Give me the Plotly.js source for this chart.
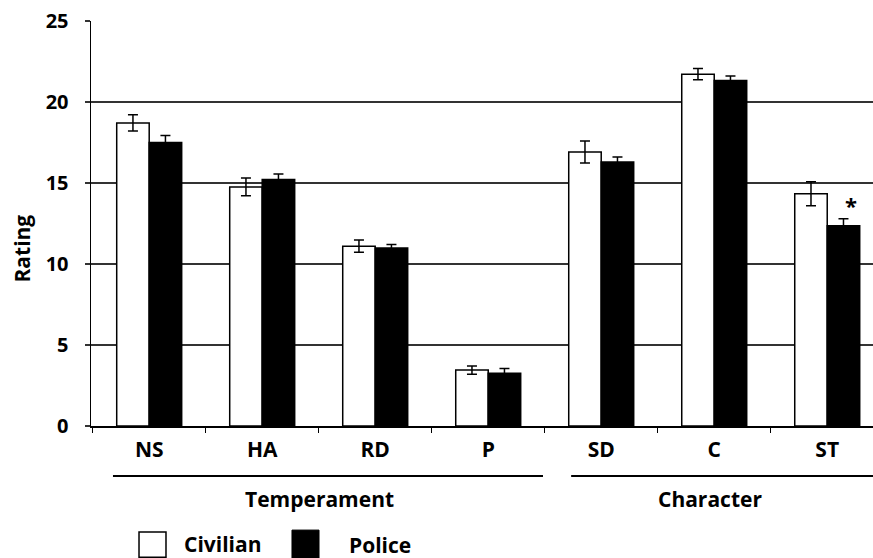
<!DOCTYPE html>
<html>
<head>
<meta charset="utf-8">
<script src="https://cdn.plot.ly/plotly-3.0.1.min.js"></script>
<style>html,body{margin:0;padding:0;background:#fff;}#chart{width:873px;height:558px;}</style>
</head>
<body>
<div id="chart"></div>
<script>
const categories = ["NS", "HA", "RD", "P", "SD", "C", "ST"];
const civilianValues = [18.71, 14.76, 11.10, 3.45, 16.92, 21.72, 14.33];
const civilianErrors = [0.50, 0.55, 0.38, 0.26, 0.68, 0.35, 0.74];
const policeValues = [17.50, 15.22, 10.98, 3.25, 16.29, 21.33, 12.36];
const policeErrors = [0.43, 0.33, 0.23, 0.30, 0.32, 0.28, 0.43];
const yTicks = [0, 5, 10, 15, 20, 25];
const groupLabels = ["Temperament", "Character"];
const seriesNames = ["Civilian", "Police"];
const significantCategory = "ST";

const FONT = "'Open Sans', 'DejaVu Sans', sans-serif";

const traces = [
  {
    type: "bar", name: seriesNames[0], x: categories, y: civilianValues,
    marker: {color: "#ffffff", line: {color: "#000000", width: 1.5}},
    error_y: {type: "data", array: civilianErrors, visible: true, color: "#000000", thickness: 1.5, width: 5},
    showlegend: false, hoverinfo: "x+y"
  },
  {
    type: "bar", name: seriesNames[1], x: categories, y: policeValues,
    marker: {color: "#000000", line: {color: "#000000", width: 1.5}},
    error_y: {type: "data", array: policeErrors, visible: true, color: "#000000", thickness: 1.5, width: 5},
    showlegend: false, hoverinfo: "x+y"
  }
];

const stIdx = categories.indexOf(significantCategory);

const layout = {
  width: 873, height: 558,
  margin: {l: 91, r: 0, t: 21, b: 132, pad: 0},
  paper_bgcolor: "#ffffff", plot_bgcolor: "#ffffff",
  font: {family: FONT, color: "#000000"},
  barmode: "group", bargap: 0.425, bargroupgap: 0,
  showlegend: false,
  xaxis: {
    type: "category", range: [-0.515, 6.405],
    showline: true, linecolor: "#000000", linewidth: 1.5,
    ticks: "outside", tickson: "boundaries", ticklen: 5, tickcolor: "#000000", tickwidth: 1.5,
    showgrid: false, zeroline: false,
    tickfont: {family: FONT, size: 21, color: "#000000", weight: "bold"},
    ticklabelstandoff: 4
  },
  yaxis: {
    range: [0, 25], tickvals: yTicks,
    showline: true, linecolor: "#000000", linewidth: 1.5,
    ticks: "outside", ticklen: 5, tickcolor: "#333333", tickwidth: 1.5,
    showgrid: true, gridcolor: "#333333", gridwidth: 1.5, zeroline: false,
    tickfont: {family: FONT, size: 20, color: "#000000", weight: "bold"},
    ticklabelstandoff: 12
  },
  shapes: [
    {type: "line", xref: "paper", yref: "paper", x0: 0.0281, x1: 0.578, y0: -0.1235, y1: -0.1235, line: {color: "#000000", width: 2}},
    {type: "line", xref: "paper", yref: "paper", x0: 0.614, x1: 1.0, y0: -0.1235, y1: -0.1235, line: {color: "#000000", width: 2}},
    {type: "rect", xref: "paper", yref: "paper", x0: 0.0614, x1: 0.0959, y0: -0.262, y1: -0.324, fillcolor: "#ffffff", line: {color: "#000000", width: 1.5}},
    {type: "rect", xref: "paper", yref: "paper", x0: 0.257, x1: 0.2916, y0: -0.257, y1: -0.326, fillcolor: "#000000", line: {color: "#000000", width: 1}}
  ],
  annotations: [
    {xref: "paper", yref: "paper", x: -0.0876, y: 0.4395, text: "Rating", textangle: -90, showarrow: false,
     font: {family: FONT, size: 21, color: "#000000", weight: "bold"}, xanchor: "center", yanchor: "middle"},
    {xref: "paper", yref: "paper", x: 0.2916, y: -0.180, text: groupLabels[0], showarrow: false,
     font: {family: FONT, size: 21, color: "#000000", weight: "bold"}, xanchor: "center", yanchor: "middle"},
    {xref: "paper", yref: "paper", x: 0.7916, y: -0.180, text: groupLabels[1], showarrow: false,
     font: {family: FONT, size: 21, color: "#000000", weight: "bold"}, xanchor: "center", yanchor: "middle"},
    {xref: "paper", yref: "paper", x: 0.1164, y: -0.291, text: seriesNames[0], showarrow: false,
     font: {family: FONT, size: 21, color: "#000000", weight: "bold"}, xanchor: "left", yanchor: "middle"},
    {xref: "paper", yref: "paper", x: 0.327, y: -0.293, text: seriesNames[1], showarrow: false,
     font: {family: FONT, size: 21, color: "#000000", weight: "bold"}, xanchor: "left", yanchor: "middle"},
    {xref: "x", yref: "y", x: stIdx + 0.21, y: policeValues[stIdx] + policeErrors[stIdx] - 0.2, text: "*", showarrow: false,
     font: {family: FONT, size: 22, color: "#000000", weight: "bold"}, xanchor: "center", yanchor: "bottom"}
  ]
};

Plotly.newPlot("chart", traces, layout, {displayModeBar: false, staticPlot: true});
</script>
</body>
</html>
